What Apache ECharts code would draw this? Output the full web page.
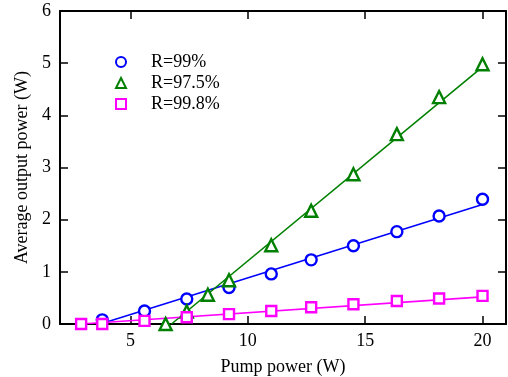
<!DOCTYPE html>
<html>
<head>
<meta charset="utf-8">
<script src="https://cdn.jsdelivr.net/npm/echarts@6/dist/echarts.min.js"></script>
<style>
  html, body { margin: 0; padding: 0; background: #fff; }
  #chart { width: 508px; height: 377px; }
</style>
</head>
<body>
<div id="chart"></div>
<script>
// measured points
const xR99 = [3.8, 5.6, 7.4, 9.2, 11.0, 12.7, 14.5, 16.35, 18.15, 20.0];
const yR99 = [0.08, 0.25, 0.48, 0.70, 0.96, 1.23, 1.50, 1.77, 2.07, 2.39];
const xR975 = [6.5, 7.4, 8.3, 9.2, 11.0, 12.7, 14.5, 16.35, 18.15, 20.0];
const yR975 = [0.0, 0.24, 0.56, 0.84, 1.51, 2.17, 2.87, 3.64, 4.35, 4.98];
const xR998 = [2.9, 3.8, 5.6, 7.4, 9.2, 11.0, 12.7, 14.5, 16.35, 18.15, 20.0];
const yR998 = [0.0, 0.0, 0.06, 0.13, 0.19, 0.25, 0.32, 0.38, 0.44, 0.49, 0.54];
// linear fit end points
const fitR99 = [[3.85, 0.02], [20, 2.29]];
const fitR975 = [[6.75, 0], [20, 4.93]];
const fitR998 = [[2.9, 0], [20, 0.52]];
const seriesNames = ['R=99%', 'R=97.5%', 'R=99.8%'];
const xTicks = [5, 10, 15, 20];

const FONT = '"Liberation Serif", "Times New Roman", serif';
const zip = (xs, ys) => xs.map((x, i) => [x, ys[i]]);

const chart = echarts.init(document.getElementById('chart'));

const markStyle = (color, symbol, size) => ({
  type: 'scatter',
  symbol: symbol,
  symbolSize: size,
  clip: false,
  z: 5,
  itemStyle: { color: '#fff', borderColor: color, borderWidth: 2.4, opacity: 1 },
});
const fitStyle = (color) => ({
  type: 'line',
  showSymbol: false,
  symbol: 'none',
  z: 3,
  lineStyle: { color: color, width: 1.6 },
});

const axisBase = {
  type: 'value',
  axisLine: { show: true, onZero: false, lineStyle: { color: '#000', width: 2 } },
  axisTick: { show: true, inside: true, length: 8, lineStyle: { color: '#000', width: 1.5 } },
  splitLine: { show: false },
};

chart.setOption({
  animation: false,
  backgroundColor: '#fff',
  textStyle: { fontFamily: FONT },
  grid: { left: 60, right: 2, top: 11, bottom: 53, outerBoundsMode: 'none', containLabel: false },
  legend: {
    data: seriesNames,
    orient: 'vertical',
    left: 115,
    top: 53,
    padding: 0,
    itemWidth: 10,
    itemHeight: 10,
    itemGap: 3,
    textStyle: { fontFamily: FONT, fontSize: 18, lineHeight: 18, color: '#000', padding: [0, 0, 0, 20] },
  },
  xAxis: [
    Object.assign({}, axisBase, {
      min: 2, max: 21,
      position: 'bottom',
      name: 'Pump power (W)',
      nameLocation: 'middle',
      nameGap: 34,
      nameTextStyle: { fontFamily: FONT, fontSize: 18, color: '#000' },
      axisTick: Object.assign({}, axisBase.axisTick, { customValues: xTicks }),
      axisLabel: { customValues: xTicks, fontFamily: FONT, fontSize: 18, color: '#000', margin: 8 },
    }),
    Object.assign({}, axisBase, {
      min: 2, max: 21,
      position: 'top',
      axisTick: Object.assign({}, axisBase.axisTick, { customValues: xTicks }),
      axisLabel: { show: false },
    }),
  ],
  yAxis: [
    Object.assign({}, axisBase, {
      min: 0, max: 6, interval: 1,
      position: 'left',
      name: 'Average output power (W)',
      nameLocation: 'middle',
      nameGap: 27,
      nameTextStyle: { fontFamily: FONT, fontSize: 18, color: '#000' },
      axisLabel: { fontFamily: FONT, fontSize: 18, color: '#000', margin: 9 },
    }),
    Object.assign({}, axisBase, {
      min: 0, max: 6, interval: 1,
      position: 'right',
      axisLabel: { show: false },
    }),
  ],
  series: [
    Object.assign(fitStyle('#0000ff'), { name: 'fit99', data: fitR99 }),
    Object.assign(fitStyle('#008000'), { name: 'fit975', data: fitR975 }),
    Object.assign(fitStyle('#ff00ff'), { name: 'fit998', data: fitR998 }),
    Object.assign(markStyle('#0000ff', 'circle', 11), { name: seriesNames[0], data: zip(xR99, yR99) }),
    Object.assign(markStyle('#008000', 'triangle', 12), { name: seriesNames[1], data: zip(xR975, yR975) }),
    Object.assign(markStyle('#ff00ff', 'rect', 10), { name: seriesNames[2], data: zip(xR998, yR998) }),
  ],
});
</script>
</body>
</html>
